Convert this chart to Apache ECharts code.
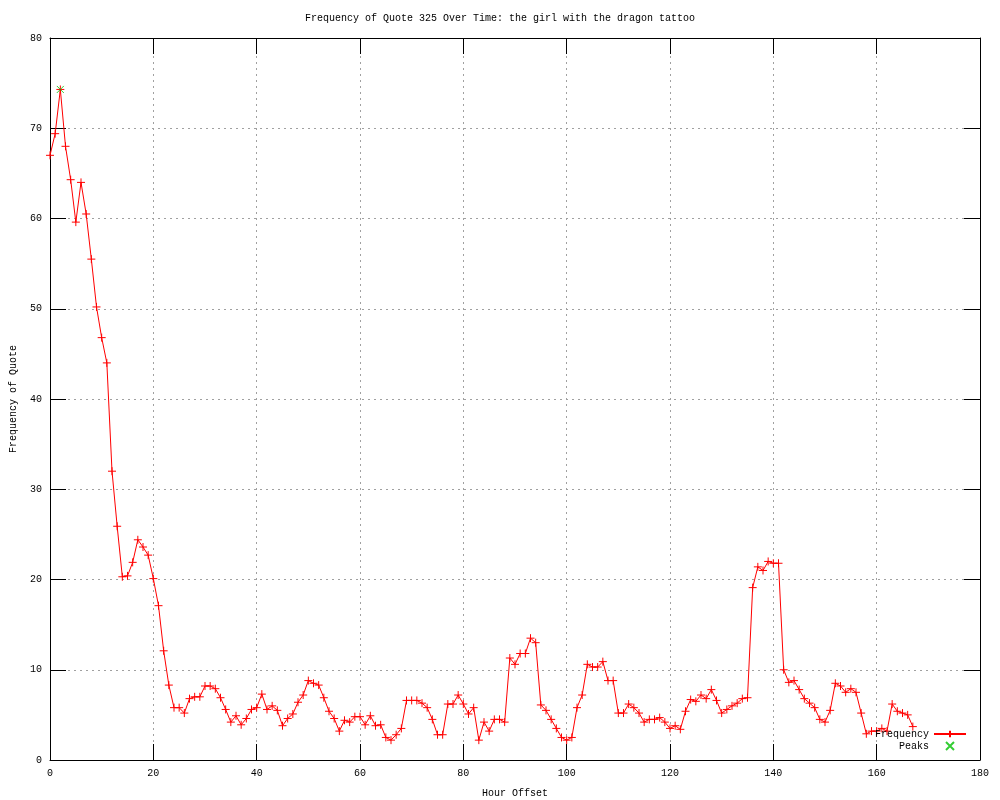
<!DOCTYPE html>
<html>
<head>
<meta charset="utf-8">
<script src="https://cdn.jsdelivr.net/npm/echarts@6/dist/echarts.min.js"></script>
<style>html,body{margin:0;padding:0;background:#fff}#c{width:1000px;height:800px}</style>
</head>
<body>
<div id="c"></div>
<script>
const titleText = 'Frequency of Quote 325 Over Time: the girl with the dragon tattoo';
const xName = 'Hour Offset';
const yName = 'Frequency of Quote';
const frequency = [
  67.0, 69.4, 74.3, 68.0, 64.3, 59.6, 64.0, 60.5, 55.5, 50.2,
  46.8, 44.0, 32.0, 25.9, 20.3, 20.4, 21.9, 24.4, 23.6, 22.7,
  20.1, 17.1, 12.1, 8.3, 5.8, 5.8, 5.2, 6.8, 7.0, 7.0,
  8.2, 8.2, 7.9, 6.9, 5.6, 4.2, 4.9, 3.9, 4.6, 5.6,
  5.8, 7.3, 5.6, 6.0, 5.5, 3.8, 4.6, 5.1, 6.4, 7.2,
  8.8, 8.5, 8.3, 6.9, 5.4, 4.6, 3.2, 4.4, 4.2, 4.8,
  4.8, 3.9, 4.9, 3.8, 3.9, 2.5, 2.2, 2.8, 3.5, 6.6,
  6.6, 6.6, 6.3, 5.8, 4.5, 2.8, 2.8, 6.2, 6.2, 7.2,
  6.2, 5.1, 5.8, 2.2, 4.2, 3.2, 4.5, 4.5, 4.2, 11.3,
  10.6, 11.8, 11.8, 13.5, 13.0, 6.1, 5.5, 4.5, 3.5, 2.5,
  2.2, 2.5, 5.8, 7.2, 10.6, 10.3, 10.3, 10.9, 8.8, 8.8,
  5.2, 5.2, 6.2, 5.8, 5.2, 4.2, 4.5, 4.5, 4.7, 4.2,
  3.5, 3.8, 3.4, 5.4, 6.7, 6.5, 7.2, 6.8, 7.8, 6.6,
  5.2, 5.6, 6.0, 6.3, 6.8, 6.9, 19.1, 21.4, 21.0, 22.0,
  21.8, 21.8, 10.0, 8.6, 8.8, 7.8, 6.8, 6.3, 5.8, 4.5,
  4.2, 5.5, 8.5, 8.2, 7.5, 7.9, 7.5, 5.2, 2.9, 3.2,
  3.2, 3.5, 3.2, 6.2, 5.4, 5.2, 5.0, 3.7
];
const peakHours = [2];
const peakValues = [74.3];

const freqData = frequency.map((v, i) => [i, v]);
const peakData = peakHours.map((h, i) => [h, peakValues[i]]);

const FONT = 'Liberation Mono';
const crossSym = 'path://M0,5L10,5M5,0L5,10';
const xSym = 'path://M0,0L10,10M10,0L0,10';

const chart = echarts.init(document.getElementById('c'), null, {renderer: 'canvas'});
const tickCommon = {show: true, inside: true, length: 16, lineStyle: {color: '#000', width: 1}};
const lineCommon = {show: true, onZero: false, lineStyle: {color: '#000', width: 1}};
chart.setOption({
  animation: false,
  backgroundColor: '#fff',
  title: {
    text: titleText, left: 'center', top: 8,
    textStyle: {fontFamily: FONT, fontSize: 10, fontWeight: 'normal', color: '#000'}
  },
  grid: {left: 50, right: 20, top: 38, bottom: 40, containLabel: false, outerBoundsMode: 'none'},
  legend: {
    orient: 'vertical', align: 'right', right: 28, top: 724,
    itemWidth: 32, itemHeight: 8, itemGap: 2,
    textStyle: {fontFamily: FONT, fontSize: 10, color: '#000'},
    data: ['Frequency', 'Peaks']
  },
  xAxis: [{
    type: 'value', min: 0, max: 180, interval: 20,
    name: xName, nameLocation: 'middle', nameGap: 28,
    nameTextStyle: {fontFamily: FONT, fontSize: 10, color: '#000'},
    axisLine: lineCommon, axisTick: tickCommon,
    axisLabel: {fontFamily: FONT, fontSize: 10, color: '#000', margin: 8},
    splitLine: {show: true, lineStyle: {color: '#a0a0a0', width: 1, type: [2, 4]}}
  }, {
    type: 'value', min: 0, max: 180, interval: 20, position: 'top',
    axisLine: lineCommon, axisTick: tickCommon,
    axisLabel: {show: false}, splitLine: {show: false}
  }],
  yAxis: [{
    type: 'value', min: 0, max: 80, interval: 10,
    name: yName, nameLocation: 'middle', nameGap: 32, nameRotate: 90,
    nameTextStyle: {fontFamily: FONT, fontSize: 10, color: '#000'},
    axisLine: lineCommon, axisTick: tickCommon,
    axisLabel: {fontFamily: FONT, fontSize: 10, color: '#000', margin: 8},
    splitLine: {show: true, lineStyle: {color: '#a0a0a0', width: 1, type: [2, 4]}}
  }, {
    type: 'value', min: 0, max: 80, interval: 10, position: 'right',
    axisLine: lineCommon, axisTick: tickCommon,
    axisLabel: {show: false}, splitLine: {show: false}
  }],
  series: [{
    name: 'Frequency', type: 'line', xAxisIndex: 0, yAxisIndex: 0,
    data: freqData, symbol: crossSym, symbolSize: 8, showAllSymbol: true,
    lineStyle: {color: '#ff0000', width: 1},
    itemStyle: {color: '#ff0000', borderColor: '#ff0000', borderWidth: 1}
  }, {
    name: 'Peaks', type: 'scatter', xAxisIndex: 0, yAxisIndex: 0,
    data: peakData, symbol: xSym, symbolSize: 7,
    itemStyle: {color: '#00c000', borderColor: '#00c000', borderWidth: 1},
    z: 5
  }]
});
</script>
</body>
</html>
